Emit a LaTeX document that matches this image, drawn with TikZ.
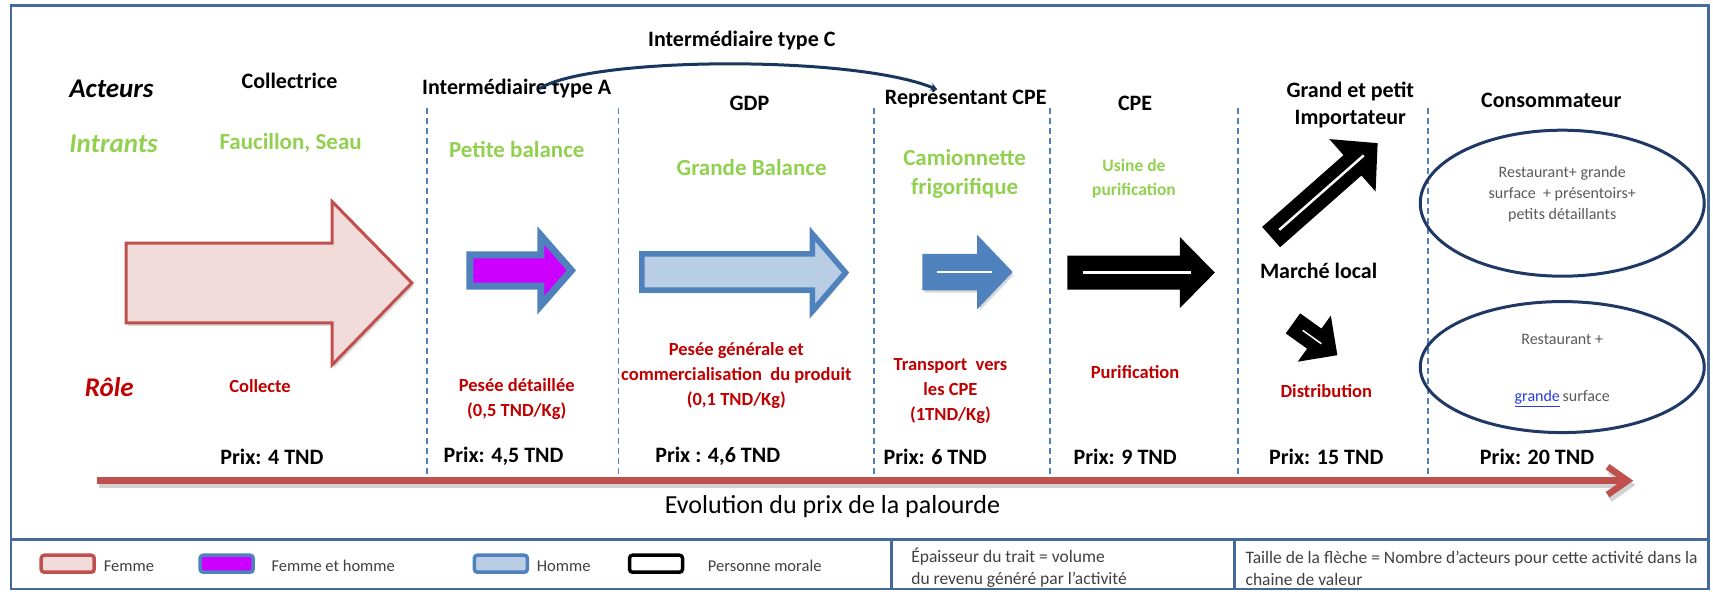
\documentclass[tikz,border=0pt]{standalone}
\usepackage{fontspec}
\setmainfont{Carlito}
\usepackage{tikz}
\usetikzlibrary{arrows.meta,calc,shadows,shapes.geometric}

\definecolor{frameblue}{RGB}{70,105,155}
\definecolor{sepblue}{RGB}{79,129,189}
\definecolor{femmefill}{RGB}{242,220,219}
\definecolor{femmeline}{RGB}{192,80,77}
\definecolor{mixfill}{RGB}{204,0,255}
\definecolor{hommefill}{RGB}{185,205,229}
\definecolor{intrgreen}{RGB}{146,208,80}
\definecolor{rolered}{RGB}{192,0,0}
\definecolor{ellblue}{RGB}{31,56,100}
\definecolor{arcblue}{RGB}{23,55,94}
\definecolor{ellgray}{RGB}{89,89,89}
\definecolor{leggray}{RGB}{64,64,64}
\definecolor{linkblue}{RGB}{40,60,220}

\begin{document}
\begin{tikzpicture}[x=1.0925pt, y=-1.0925pt,
    rowlbl/.style={font=\fontsize{27}{30}\selectfont\bfseries\itshape, inner sep=0pt},
    hdr/.style={font=\fontsize{22}{27}\selectfont\bfseries, align=center, inner sep=0pt},
    intrant/.style={font=\fontsize{23}{28.5}\selectfont\bfseries, text=intrgreen, align=center, inner sep=0pt},
    role/.style={font=\fontsize{18.5}{25}\selectfont\bfseries, text=rolered, align=center, inner sep=0pt},
    prix/.style={font=\fontsize{22}{24}\selectfont\bfseries, inner sep=0pt},
    sep/.style={sepblue, line width=1.5pt, dash pattern=on 6pt off 4pt},
    frame/.style={frameblue, line width=2.5pt},
    shade/.style={drop shadow={shadow xshift=2pt, shadow yshift=-3pt, opacity=.3}},
    conso/.style={ellipse, draw=ellblue, line width=3pt, inner sep=0pt},
    ellipsetxt/.style={font=\fontsize{16}{21}\selectfont, text=ellgray, align=center, inner sep=0pt},
    legbox/.style={rounded corners=3pt, minimum width=53pt, minimum height=17pt, line width=3.5pt, inner sep=0pt},
    legtxt/.style={font=\fontsize{16.5}{22}\selectfont, text=leggray, align=left, inner sep=0pt},
    notetxt/.style={legtxt, font=\fontsize{17.5}{22}\selectfont, anchor=west}]
    \useasboundingbox (0,0) rectangle (1568,541);

    % Frame and legend boxes
    \draw[frame] (10,5) rectangle (1564,539);
    \draw[frame] (10,494) -- (1564,494);
    \draw[frame] (816,494) -- (816,539);
    \draw[frame] (1130,494) -- (1130,539);

    % Row labels
    \node[rowlbl] (acteurs) at (102,81) {Acteurs};
    \node[rowlbl, text=intrgreen] (intrants) at (104,132) {Intrants};
    \node[rowlbl, text=rolered] (role) at (100,354) {Rôle};

    % Separators
    \foreach \x in {391,566,800,961,1133,1307}
        \draw[sep] (\x,99) -- (\x,438);

    % Collectrice
    \node[hdr] (collectrice) at (265,74) {Collectrice};
    \node[intrant] (faucillon) at (266,131) {Faucillon, Seau};
    \filldraw[fill=femmefill, draw=femmeline, line width=3pt, shade]
        (115.5,222.5) -- (304,222.5) -- (304,184.5) -- (377,259) -- (304,334) -- (304,295.5) -- (115.5,295.5) -- cycle;
    \node[role] (collecte) at (238,353) {Collecte};
    \node[prix] (prix1) at (249,418) {Prix: 4 TND};

    % Intermediaire type A
    \node[hdr] (intA) at (473,81) {Intermédiaire type A};
    \node[intrant] (petiteBal) at (473,137) {Petite balance};
    \filldraw[fill=mixfill, draw=sepblue, line width=7pt, shade]
        (430,233.2) -- (495,233.2) -- (495,215.5) -- (523,247.5) -- (495,279.5) -- (495,261.8) -- (430,261.8) -- cycle;
    \node[role] (peseeDet) at (473,365) {Pesée détaillée\\(0,5 TND/Kg)};
    \node[prix] (prix2) at (461,418) {Prix: 4,5 TND};

    % Intermediaire type C
    \node[hdr] (intC) at (679,37) {Intermédiaire type C};

    % GDP
    \node[hdr] (gdp) at (686,95) {GDP};
    \node[intrant] (grandeBal) at (688,153) {Grande Balance};
    \filldraw[fill=hommefill, draw=sepblue, line width=5.5pt, shade]
        (587.5,232.5) -- (743.5,232.5) -- (743.5,214) -- (774,249.5) -- (743.5,285) -- (743.5,265.5) -- (587.5,265.5) -- cycle;
    \node[role] (peseeGen) at (674,344) {Pesée générale et\\commercialisation \ du produit\\(0,1 TND/Kg)};
    \node[prix] (prix3) at (657,418) {Prix : 4,6 TND};

    % Representant CPE
    \node[hdr] (repCPE) at (884,90) {Représentant CPE};
    \node[intrant] (camion) at (883,159) {Camionnette\\frigorifique};
    \filldraw[fill=sepblue, draw=sepblue, line width=1.5pt, shade]
        (845,233) -- (895,233) -- (895,216.5) -- (926,249) -- (895,281.5) -- (895,265) -- (845,265) -- cycle;
    \draw[white, line width=1.5pt] (858,249) -- (908,249);
    \node[role] (transport) at (870,358) {Transport \ vers\\les CPE\\(1TND/Kg)};
    \node[prix] (prix4) at (856,418) {Prix: 6 TND};

    % CPE
    \node[hdr] (cpe) at (1039,95) {CPE};
    \node[intrant, font=\fontsize{17.5}{24}\selectfont\bfseries] (usine) at (1038,164) {Usine de\\purification};
    \fill (977,234) -- (1080,234) -- (1080,217) -- (1112,249.5) -- (1080,282) -- (1080,265) -- (977,265) -- cycle;
    \draw[white, line width=2.5pt] (991,249.5) -- (1090,249.5);
    \node[role] (purif) at (1039,341) {Purification};
    \node[prix] (prix5) at (1030,418) {Prix: 9 TND};

    % Importateur and marche local
    \node[hdr] (importateur) at (1236,96.5) {Grand et petit\\Importateur};
    \begin{scope}[shift={(1163.5,217)}, rotate=41.4]
        \fill (0,-12.4) -- (99.3,-12.4) -- (99.3,-32) -- (130,0) -- (99.3,32) -- (99.3,12.4) -- (0,12.4) -- cycle;
        \draw[white, line width=2.5pt] (10,0) -- (113,0);
    \end{scope}
    \node[hdr] (marche) at (1207,248) {Marché local};
    \begin{scope}[shift={(1183.5,296)}, rotate=-35.6]
        \fill (0,-11.3) -- (24,-11.3) -- (24,-26) -- (50,0) -- (24,26) -- (24,11.3) -- (0,11.3) -- cycle;
        \draw[white, line width=1.5pt] (11,0) -- (32,0);
    \end{scope}
    \node[role] (distrib) at (1214,358) {Distribution};
    \node[prix] (prix6) at (1214,418) {Prix: 15 TND};

    % Consommateur
    \node[hdr] (consommateur) at (1420,92) {Consommateur};
    \node[conso, minimum width=284pt, minimum height=146pt] (conso1) at (1430,186) {};
    \node[ellipsetxt] (conso1txt) at (1430,178) {Restaurant+ grande\\surface \ + présentoirs+\\petits détaillants};
    \node[conso, minimum width=284pt, minimum height=131pt] (conso2) at (1430,336) {};
    \node[ellipsetxt] (conso2txt) at (1430,339) {Restaurant +\\[36pt]\textcolor{linkblue}{\underline{grande}}\,surface};
    \node[prix] (prix7) at (1407,418) {Prix: 20 TND};

    % Intermediaire type C link
    \draw[arcblue, line width=3pt, -{Stealth[length=7pt, width=8pt]}]
        ($(intA.center)+(21,0)$) .. controls +(46,-29) and +(-78,-32) .. ($(repCPE.center)+(-26,-8)$);

    % Price evolution
    \coordinate (pstart) at (89,440);
    \coordinate (pend) at (1495,440);
    \draw[gray!35, line width=6.5pt, -{Straight Barb[length=20pt, width=28pt]}] ($(pstart)+(2,4)$) -- ($(pend)+(2,4)$);
    \draw[femmeline, line width=6.5pt, -{Straight Barb[length=20pt, width=28pt]}] (pstart) -- (pend);
    \node[font=\fontsize{26}{30}\selectfont, inner sep=0pt] (evolution) at (762,464) {Evolution du prix de la palourde};

    % Legend
    \node[legbox, fill=femmefill, draw=femmeline] (legF) at (62,516) {};
    \node[legtxt] (legFtxt) at (118,518) {Femme};
    \node[legbox, fill=mixfill, draw=sepblue] (legFH) at (207.5,516) {};
    \node[legtxt] (legFHtxt) at (305,518) {Femme et homme};
    \node[legbox, fill=hommefill, draw=sepblue] (legH) at (458.5,516) {};
    \node[legtxt] (legHtxt) at (516,518) {Homme};
    \node[legbox, fill=white, draw=black] (legPM) at (600.5,516) {};
    \node[legtxt] (legPMtxt) at (700,518) {Personne morale};
    \node[notetxt] (noteEpaisseur) at (834,520) {Épaisseur du trait = volume\\du revenu généré par l'activité};
    \node[notetxt] (noteTaille) at (1140,520) {Taille de la flèche = Nombre d'acteurs pour cette activité dans la\\chaine de valeur};
\end{tikzpicture}
\end{document}
